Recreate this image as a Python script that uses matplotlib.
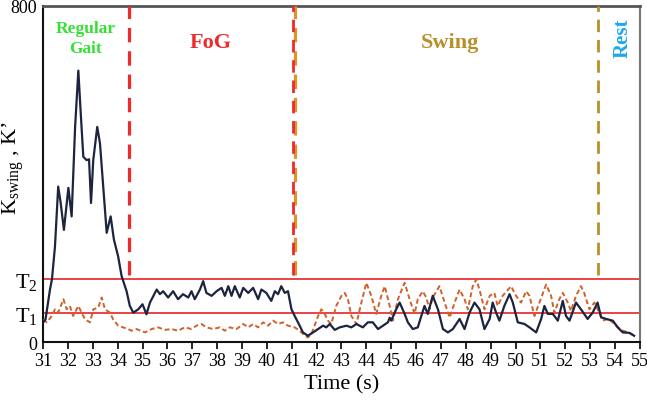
import matplotlib
matplotlib.use("Agg")
import matplotlib.pyplot as plt
import numpy as np

plt.rcParams['font.family'] = ['Liberation Serif', 'DejaVu Serif']
plt.rcParams['mathtext.fontset'] = 'custom'
plt.rcParams['mathtext.rm'] = 'Liberation Serif'
plt.rcParams['mathtext.it'] = 'Liberation Serif:italic'

# ---- data ----
k_swing_t = [31.01, 31.1, 31.28, 31.36, 31.48, 31.61, 31.71, 31.84, 32.02, 32.15, 32.29, 32.42,
             32.51, 32.62, 32.75, 32.85, 32.93, 33.02, 33.18, 33.29, 33.42, 33.56, 33.72, 33.85,
             34.02, 34.16, 34.36, 34.49, 34.63, 34.83, 35.0, 35.16, 35.3, 35.57, 35.7, 35.83,
             36.03, 36.23, 36.43, 36.63, 36.84, 36.97, 37.1, 37.31, 37.44, 37.57, 37.78, 37.98,
             38.18, 38.31, 38.45, 38.58, 38.71, 38.91, 39.05, 39.25, 39.45, 39.65, 39.78, 39.98,
             40.18, 40.32, 40.45, 40.58, 40.72, 40.85, 40.99, 41.12, 41.32, 41.45, 41.65, 41.86,
             42.06, 42.26, 42.39, 42.53, 42.73, 42.93, 43.2, 43.4, 43.6, 43.86, 44.06, 44.26,
             44.47, 44.67, 44.87, 44.94, 45.0, 45.2, 45.34, 45.54, 45.67, 45.87, 46.07, 46.21,
             46.34, 46.47, 46.67, 46.88, 47.08, 47.28, 47.48, 47.75, 47.95, 48.15, 48.35, 48.55,
             48.75, 48.96, 49.08, 49.22, 49.35, 49.55, 49.76, 49.89, 50.09, 50.36, 50.56, 50.83,
             51.03, 51.16, 51.3, 51.5, 51.7, 51.9, 52.03, 52.17, 52.43, 52.63, 52.9, 53.1, 53.3,
             53.44, 53.64, 53.91, 54.11, 54.31, 54.57, 54.77]
k_swing_v = [47, 54, 125, 150, 227, 370, 331, 267, 367, 299, 512, 646,
             551, 441, 433, 435, 331, 433, 512, 473, 370, 260, 299, 244,
             204, 157, 121, 86, 70, 78, 90, 66, 94, 125, 114, 121,
             106, 121, 102, 114, 106, 121, 102, 125, 145, 117, 110, 121,
             129, 110, 133, 110, 133, 106, 129, 117, 129, 102, 125, 117,
             98, 121, 114, 133, 117, 121, 78, 62, 39, 23, 15, 23,
             31, 39, 35, 43, 29, 35, 39, 35, 43, 35, 47, 47,
             31, 39, 47, 58, 51, 78, 94, 67, 47, 31, 35, 62,
             86, 67, 110, 78, 31, 23, 31, 55, 31, 70, 94, 78,
             31, 55, 94, 70, 51, 86, 114, 94, 47, 43, 35, 23,
             55, 86, 67, 67, 51, 98, 62, 51, 94, 78, 55, 70, 94,
             59, 55, 51, 35, 23, 22, 15]

k_prime_t = [31.01, 31.15, 31.35, 31.48, 31.61, 31.82, 31.95, 32.08, 32.21, 32.42, 32.55, 32.69,
             32.89, 33.02, 33.22, 33.36, 33.49, 33.69, 33.82, 34.02, 34.22, 34.42, 34.56, 34.76,
             35.1, 35.37, 35.63, 35.9, 36.17, 36.43, 36.7, 36.97, 37.17, 37.37, 37.57, 37.84,
             38.11, 38.31, 38.51, 38.78, 39.05, 39.25, 39.45, 39.65, 39.85, 40.05, 40.25, 40.45,
             40.65, 40.85, 41.12, 41.32, 41.5, 41.65, 41.79, 41.92, 42.06, 42.19, 42.33, 42.46,
             42.59, 42.79, 43.0, 43.13, 43.26, 43.4, 43.6, 43.8, 44.0, 44.2, 44.4, 44.6, 44.74,
             44.94, 45.07, 45.27, 45.54, 45.74, 45.94, 46.07, 46.27, 46.41, 46.54, 46.67, 46.94,
             47.15, 47.35, 47.55, 47.75, 47.95, 48.08, 48.28, 48.42, 48.55, 48.75, 48.96, 49.15,
             49.28, 49.48, 49.82, 50.02, 50.22, 50.43, 50.56, 50.76, 50.96, 51.23, 51.43, 51.56,
             51.76, 51.9, 52.1, 52.23, 52.43, 52.63, 52.76, 52.97, 53.17, 53.37, 53.5, 53.71,
             53.91, 54.11, 54.31, 54.57, 54.77]
k_prime_v = [54, 47, 62, 78, 70, 102, 78, 86, 62, 86, 70, 54,
             47, 78, 82, 106, 78, 70, 54, 39, 35, 31, 27, 31,
             23, 31, 35, 29, 31, 27, 35, 31, 39, 43, 35, 31,
             35, 27, 35, 31, 43, 35, 43, 35, 47, 39, 51, 43,
             47, 39, 35, 27, 17, 11, 19, 39, 62, 78, 67, 51,
             43, 86, 110, 117, 102, 62, 43, 94, 141, 110, 67, 110, 133,
             86, 51, 102, 141, 102, 67, 102, 121, 106, 78, 106, 133,
             94, 58, 94, 125, 102, 78, 133, 149, 125, 78, 110, 117,
             86, 110, 133, 110, 94, 121, 110, 62, 94, 137, 110, 70,
             102, 117, 94, 74, 110, 133, 117, 78, 94, 70, 51, 55,
             47, 35, 27, 23, 15]

thresholds = [150, 70]
threshold_labels = ['T$_2$', 'T$_1$']
phase_bounds = [34.45, 41.08, 53.33]
x_ticks = list(range(31, 56))

# ---- figure ----
fig = plt.figure(figsize=(6.47, 4.06), dpi=100)
ax = fig.add_axes([0.0665, 0.155, 0.9225, 0.828])
ax.set_xlim(31, 55)
ax.set_ylim(0, 800)

red = '#ee2a2a'
gold = '#b8902a'

for th in thresholds:
    ax.axhline(th, color='#e8343a', lw=1.3, zorder=2)

ax.plot(k_prime_t, k_prime_v, color='#d0612a', lw=1.4, ls=(0, (2.5, 1.5)), zorder=3)
ax.plot(k_swing_t, k_swing_v, color='#1c2440', lw=1.6, zorder=4, solid_joinstyle='round')

ax.axvline(phase_bounds[0], ymin=0.2, ymax=1, color=red, lw=2.3, ls=(0, (4.5, 2.8)), zorder=5)
ax.axvline(phase_bounds[1] + 0.04, ymin=0.2, ymax=1, color='#d9962a', lw=2.3, ls=(0, (4.5, 2.8)), zorder=5)
ax.axvline(phase_bounds[1] - 0.02, ymin=0.2, ymax=1, color=red, lw=2.0, ls=(0, (4.5, 2.8)), zorder=6)
ax.axvline(phase_bounds[2], ymin=0.2, ymax=1, color=gold, lw=2.0, ls=(0, (4.5, 2.8)), zorder=5)

ax.set_xticks(x_ticks)
ax.set_xticklabels([str(t) for t in x_ticks], fontsize=13)
ax.tick_params(axis='x', direction='out', length=5, width=1.2, pad=2)

ax.set_yticks([0] + thresholds + [800])
ax.set_yticklabels(['0'] + threshold_labels + ['800'])
for lab in ax.get_yticklabels():
    lab.set_fontsize(16)
ax.get_yticklabels()[0].set_fontsize(13)
ax.get_yticklabels()[-1].set_fontsize(13)
ax.tick_params(axis='y', length=0, pad=4)

ax.set_xlabel('Time (s)', fontsize=16, labelpad=4)
ax.set_ylabel('K$_{\\mathrm{swing}}$ , K’', fontsize=16)
ax.yaxis.set_label_coords(-0.028, 0.52)

for s in ['left', 'bottom']:
    ax.spines[s].set_color('#111111')
    ax.spines[s].set_linewidth(1.5)
ax.spines['top'].set_color('#555555')
ax.spines['top'].set_linewidth(2)
ax.spines['right'].set_color('#777777')
ax.spines['right'].set_linewidth(1.5)

ax.text(32.7, 724, 'Regular\nGait', color='#33e033', fontsize=12.5, fontweight='bold',
        ha='center', va='center', linespacing=1.35)
ax.text(37.75, 713, 'FoG', color=red, fontsize=16, fontweight='bold', ha='center', va='center')
ax.text(47.35, 713, 'Swing', color=gold, fontsize=16, fontweight='bold', ha='center', va='center')
ax.text(54.3, 725, 'Rest', color='#1ea8ec', fontsize=15, fontweight='bold', ha='center',
        va='center', rotation=90)

fig.savefig('out.png', dpi=100)
